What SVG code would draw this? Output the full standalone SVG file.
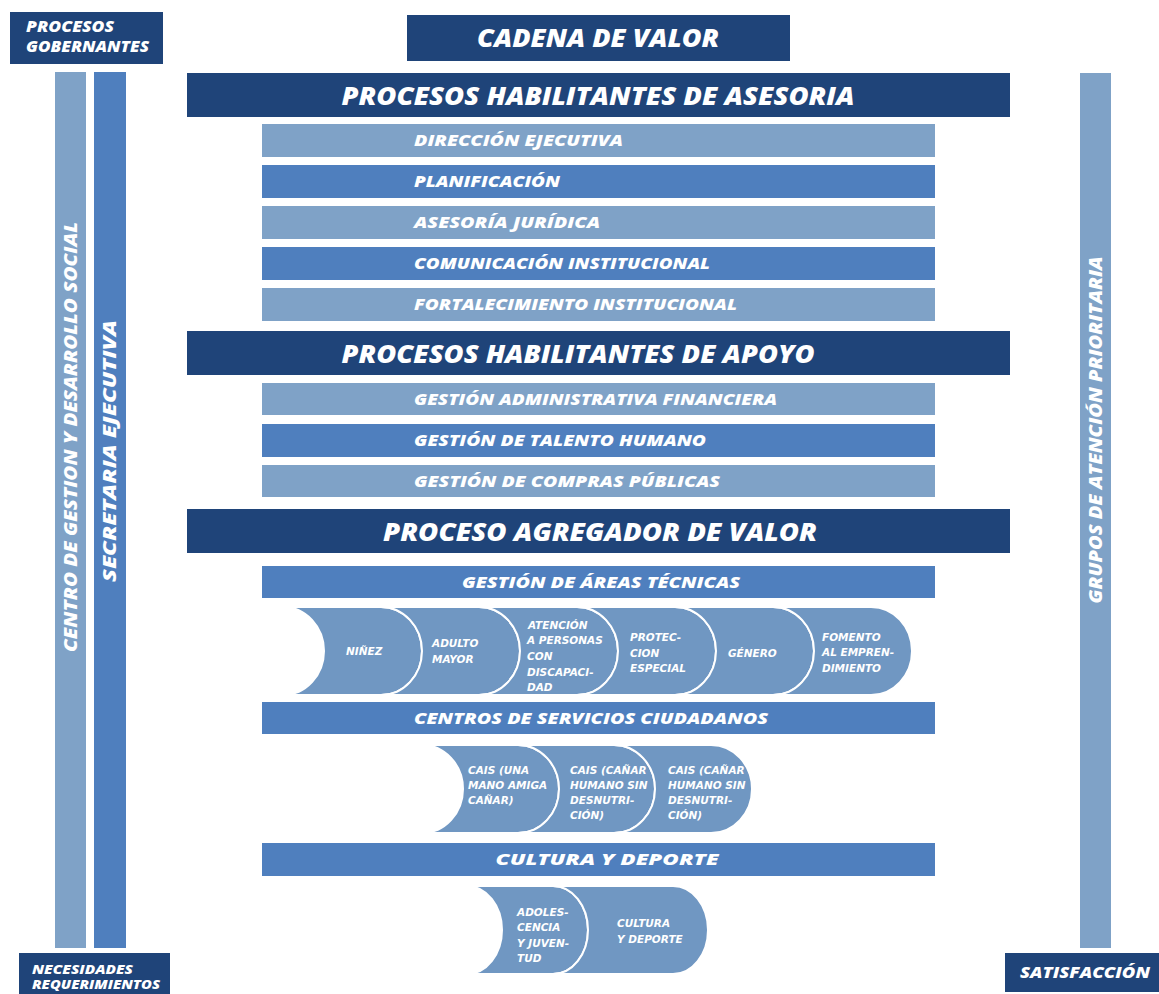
<svg xmlns="http://www.w3.org/2000/svg" width="1159" height="994" viewBox="0 0 1159 994">
<style>
.dark{fill:#1f4479}
.light{fill:#7fa2c7}
.med{fill:#4f7fbe}
.chev{fill:#7097c2;stroke:#ffffff;stroke-width:2}
text{font-family:"Open Sans","Liberation Sans",sans-serif;font-weight:800;font-style:italic;fill:#ffffff}
.h1{font-size:24px}
.h2{font-size:16px}
.sm{font-family:"DejaVu Sans","Liberation Sans",sans-serif;font-weight:bold;font-size:10.5px}
.lab{font-size:15px}
.vt{font-size:17px}
</style>
<rect width="1159" height="994" fill="#ffffff"/>

<g id="procesos-gobernantes">
<rect class="dark" x="10" y="12" width="153" height="52"/>
<text class="lab" x="26" y="32" textLength="88" lengthAdjust="spacingAndGlyphs">PROCESOS</text>
<text class="lab" x="26" y="52" textLength="123" lengthAdjust="spacingAndGlyphs">GOBERNANTES</text>
</g>

<g id="cadena-de-valor">
<rect class="dark" x="407" y="15" width="383" height="46"/>
<text class="h1" x="598" y="47" text-anchor="middle" textLength="242" lengthAdjust="spacingAndGlyphs">CADENA DE VALOR</text>
</g>

<g id="centro-gestion">
<rect class="light" x="55" y="72" width="31" height="876"/>
<text class="vt" transform="translate(77,437) rotate(-90)" text-anchor="middle" textLength="430" lengthAdjust="spacingAndGlyphs">CENTRO DE GESTION Y DESARROLLO SOCIAL</text>
</g>
<g id="secretaria-ejecutiva">
<rect class="med" x="94" y="72" width="32" height="876"/>
<text class="vt" transform="translate(116,451) rotate(-90)" text-anchor="middle" textLength="262" lengthAdjust="spacingAndGlyphs">SECRETARIA EJECUTIVA</text>
</g>
<g id="grupos-atencion">
<rect class="light" x="1080" y="73" width="31" height="875"/>
<text class="vt" transform="translate(1102,430) rotate(-90)" text-anchor="middle" textLength="347" lengthAdjust="spacingAndGlyphs">GRUPOS DE ATENCIÓN PRIORITARIA</text>
</g>

<g id="asesoria">
<rect class="dark" x="187" y="73" width="823" height="44"/>
<text class="h1" x="598" y="105" text-anchor="middle" textLength="513" lengthAdjust="spacingAndGlyphs">PROCESOS HABILITANTES DE ASESORIA</text>
</g>
<g id="direccion-ejecutiva">
<rect class="light" x="262" y="124" width="673" height="33"/>
<text class="h2" x="414" y="146" textLength="209" lengthAdjust="spacingAndGlyphs">DIRECCIÓN EJECUTIVA</text>
</g>
<g id="planificacion">
<rect class="med" x="262" y="165" width="673" height="33"/>
<text class="h2" x="414" y="187" textLength="146" lengthAdjust="spacingAndGlyphs">PLANIFICACIÓN</text>
</g>
<g id="asesoria-juridica">
<rect class="light" x="262" y="206" width="673" height="33"/>
<text class="h2" x="414" y="228" textLength="186" lengthAdjust="spacingAndGlyphs">ASESORÍA JURÍDICA</text>
</g>
<g id="comunicacion">
<rect class="med" x="262" y="247" width="673" height="33"/>
<text class="h2" x="414" y="269" textLength="296" lengthAdjust="spacingAndGlyphs">COMUNICACIÓN INSTITUCIONAL</text>
</g>
<g id="fortalecimiento">
<rect class="light" x="262" y="288" width="673" height="33"/>
<text class="h2" x="414" y="310" textLength="323" lengthAdjust="spacingAndGlyphs">FORTALECIMIENTO INSTITUCIONAL</text>
</g>

<g id="apoyo">
<rect class="dark" x="187" y="331" width="823" height="44"/>
<text class="h1" x="578" y="363" text-anchor="middle" textLength="473" lengthAdjust="spacingAndGlyphs">PROCESOS HABILITANTES DE APOYO</text>
</g>
<g id="gestion-administrativa">
<rect class="light" x="262" y="383" width="673" height="32"/>
<text class="h2" x="414" y="405" textLength="363" lengthAdjust="spacingAndGlyphs">GESTIÓN ADMINISTRATIVA FINANCIERA</text>
</g>
<g id="talento-humano">
<rect class="med" x="262" y="424" width="673" height="33"/>
<text class="h2" x="414" y="446" textLength="292" lengthAdjust="spacingAndGlyphs">GESTIÓN DE TALENTO HUMANO</text>
</g>
<g id="compras-publicas">
<rect class="light" x="262" y="465" width="673" height="32"/>
<text class="h2" x="414" y="487" textLength="306" lengthAdjust="spacingAndGlyphs">GESTIÓN DE COMPRAS PÚBLICAS</text>
</g>

<g id="agregador">
<rect class="dark" x="187" y="509" width="823" height="44"/>
<text class="h1" x="600" y="541" text-anchor="middle" textLength="434" lengthAdjust="spacingAndGlyphs">PROCESO AGREGADOR DE VALOR</text>
</g>
<g id="areas-tecnicas">
<rect class="med" x="262" y="566" width="673" height="32"/>
<text class="h2" x="601" y="588" text-anchor="middle" textLength="278" lengthAdjust="spacingAndGlyphs">GESTIÓN DE ÁREAS TÉCNICAS</text>
</g>

<g id="ninez">
<path class="chev" d="M283,607 L381,607 A41 44 0 0 1 381,695 L283,695 A41 44 0 0 0 283,607 Z"/>
<text class="sm" x="346" y="655">NIÑEZ</text>
</g>
<g id="adulto-mayor">
<path class="chev" d="M381,607 L479,607 A41 44 0 0 1 479,695 L381,695 A41 44 0 0 0 381,607 Z"/>
<text class="sm" x="432" y="647">ADULTO</text>
<text class="sm" x="432" y="663">MAYOR</text>
</g>
<g id="discapacidad">
<path class="chev" d="M479,607 L577,607 A41 44 0 0 1 577,695 L479,695 A41 44 0 0 0 479,607 Z"/>
<text class="sm" x="528" y="629">ATENCIÓN</text>
<text class="sm" x="527" y="644">A PERSONAS</text>
<text class="sm" x="527" y="660">CON</text>
<text class="sm" x="527" y="676">DISCAPACI-</text>
<text class="sm" x="527" y="691">DAD</text>
</g>
<g id="proteccion-especial">
<path class="chev" d="M577,607 L675,607 A41 44 0 0 1 675,695 L577,695 A41 44 0 0 0 577,607 Z"/>
<text class="sm" x="630" y="641">PROTEC-</text>
<text class="sm" x="630" y="657">CION</text>
<text class="sm" x="630" y="672">ESPECIAL</text>
</g>
<g id="genero">
<path class="chev" d="M675,607 L773,607 A41 44 0 0 1 773,695 L675,695 A41 44 0 0 0 675,607 Z"/>
<text class="sm" x="728" y="657">GÉNERO</text>
</g>
<g id="fomento">
<path class="chev" d="M773,607 L871,607 A41 44 0 0 1 871,695 L773,695 A41 44 0 0 0 773,607 Z"/>
<text class="sm" x="822" y="641">FOMENTO</text>
<text class="sm" x="822" y="656">AL EMPREN-</text>
<text class="sm" x="822" y="672">DIMIENTO</text>
</g>

<g id="centros-servicios">
<rect class="med" x="262" y="702" width="673" height="32"/>
<text class="h2" x="414" y="724" textLength="354" lengthAdjust="spacingAndGlyphs">CENTROS DE SERVICIOS CIUDADANOS</text>
</g>
<g id="cais-1">
<path class="chev" d="M422,745 L518,745 A41 44 0 0 1 518,833 L422,833 A41 44 0 0 0 422,745 Z"/>
<text class="sm" x="468" y="774">CAIS (UNA</text>
<text class="sm" x="468" y="789">MANO AMIGA</text>
<text class="sm" x="468" y="804">CAÑAR)</text>
</g>
<g id="cais-2">
<path class="chev" d="M518,745 L614,745 A41 44 0 0 1 614,833 L518,833 A41 44 0 0 0 518,745 Z"/>
<text class="sm" x="570" y="774">CAIS (CAÑAR</text>
<text class="sm" x="570" y="789">HUMANO SIN</text>
<text class="sm" x="570" y="804">DESNUTRI-</text>
<text class="sm" x="570" y="819">CIÓN)</text>
</g>
<g id="cais-3">
<path class="chev" d="M614,745 L711,745 A41 44 0 0 1 711,833 L614,833 A41 44 0 0 0 614,745 Z"/>
<text class="sm" x="668" y="774">CAIS (CAÑAR</text>
<text class="sm" x="668" y="789">HUMANO SIN</text>
<text class="sm" x="668" y="804">DESNUTRI-</text>
<text class="sm" x="668" y="819">CIÓN)</text>
</g>

<g id="cultura-deporte">
<rect class="med" x="262" y="843" width="673" height="33"/>
<text class="h2" x="607" y="865" text-anchor="middle" textLength="223" lengthAdjust="spacingAndGlyphs">CULTURA Y DEPORTE</text>
</g>
<g id="adolescencia">
<path class="chev" d="M467,886 L553,886 A35 44 0 0 1 553,974 L467,974 A35 44 0 0 0 467,886 Z"/>
<text class="sm" x="517" y="916">ADOLES-</text>
<text class="sm" x="517" y="931">CENCIA</text>
<text class="sm" x="517" y="947">Y JUVEN-</text>
<text class="sm" x="517" y="962">TUD</text>
</g>
<g id="cultura-y-deporte">
<path class="chev" d="M553,886 L673,886 A35 44 0 0 1 673,974 L553,974 A35 44 0 0 0 553,886 Z"/>
<text class="sm" x="617" y="927">CULTURA</text>
<text class="sm" x="617" y="943">Y DEPORTE</text>
</g>

<g id="necesidades">
<rect class="dark" x="19" y="953" width="151" height="45"/>
<text x="32" y="974" style="font-size:12px" textLength="101" lengthAdjust="spacingAndGlyphs">NECESIDADES</text>
<text x="32" y="989" style="font-size:12px" textLength="128" lengthAdjust="spacingAndGlyphs">REQUERIMIENTOS</text>
</g>
<g id="satisfaccion">
<rect class="dark" x="1005" y="953" width="154" height="39"/>
<text x="1020" y="978" style="font-size:15px" textLength="130" lengthAdjust="spacingAndGlyphs">SATISFACCIÓN</text>
</g>
</svg>
